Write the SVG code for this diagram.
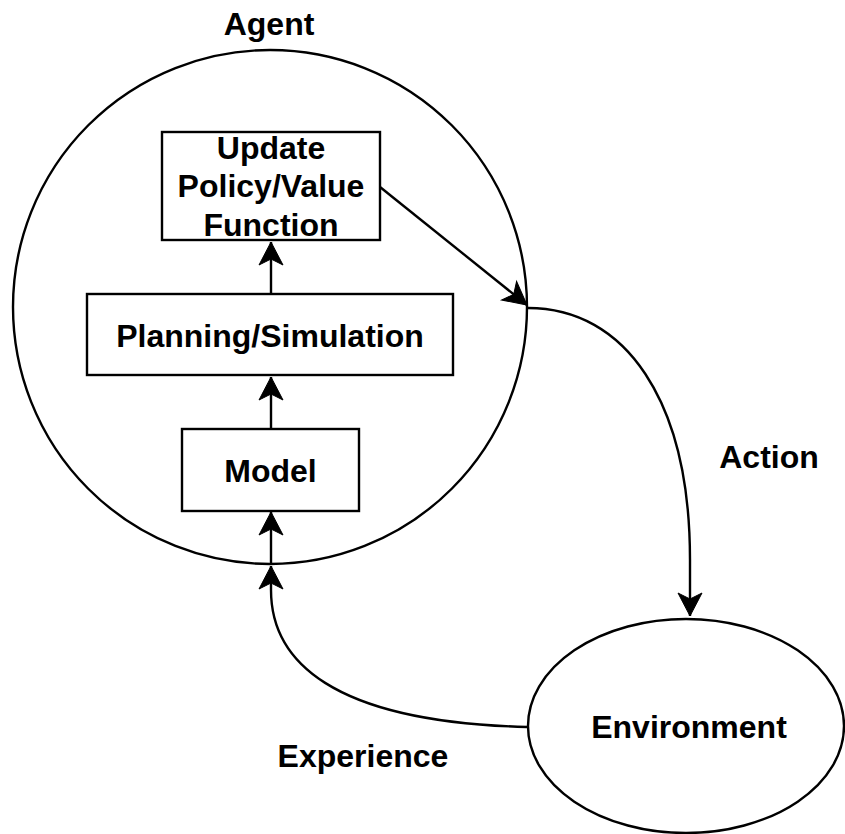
<svg xmlns="http://www.w3.org/2000/svg" width="845" height="834" viewBox="0 0 845 834">
  <style>
    .shape { fill: #ffffff; stroke: #000000; stroke-width: 2.4; }
    .edge { fill: none; stroke: #000000; stroke-width: 2.4; }
    .label { font-family: "Liberation Sans", Arial, sans-serif; font-weight: bold; font-size: 32px; fill: #000000; text-anchor: middle; }
  </style>
  <defs>
    <marker id="arrow" markerUnits="userSpaceOnUse" markerWidth="30" markerHeight="30" viewBox="-26 -15 30 30" refX="0" refY="0" orient="auto" overflow="visible">
      <path d="M0,0 L-23,-12 L-17,0 L-23,12 Z" fill="#000000" stroke="#000000" stroke-width="1"/>
    </marker>
  </defs>

  <!-- Agent boundary -->
  <g id="agent">
    <circle class="shape" cx="270" cy="307" r="257"/>
    <text class="label" x="269" y="35">Agent</text>
  </g>

  <g id="update">
    <rect class="shape" x="162" y="132" width="218" height="108"/>
    <text class="label" x="271" y="159">Update</text>
    <text class="label" x="271" y="197">Policy/Value</text>
    <text class="label" x="271" y="236">Function</text>
  </g>

  <g id="planning">
    <rect class="shape" x="87" y="294" width="366" height="81"/>
    <text class="label" x="270" y="347">Planning/Simulation</text>
  </g>

  <g id="model">
    <rect class="shape" x="182" y="429" width="177" height="82"/>
    <text class="label" x="270.5" y="482">Model</text>
  </g>

  <g id="environment">
    <ellipse class="shape" cx="686" cy="726" rx="158" ry="107"/>
    <text class="label" x="689" y="738">Environment</text>
  </g>

  <!-- Connectors -->
  <g id="connectors">
    <line class="edge" x1="271" y1="294" x2="271" y2="242" marker-end="url(#arrow)"/>
    <line class="edge" x1="271" y1="429" x2="271" y2="377" marker-end="url(#arrow)"/>
    <line class="edge" x1="271" y1="564" x2="271" y2="512" marker-end="url(#arrow)"/>
    <line class="edge" x1="380" y1="187" x2="527" y2="305" marker-end="url(#arrow)"/>
    <path class="edge" d="M528,308 C625,308 690,400 690,560 L690,616" marker-end="url(#arrow)"/>
    <path class="edge" d="M527,727 C330,722 271,660 271,590 L271,566" marker-end="url(#arrow)"/>
    <text class="label" x="769" y="468">Action</text>
    <text class="label" x="363" y="767">Experience</text>
  </g>
</svg>
